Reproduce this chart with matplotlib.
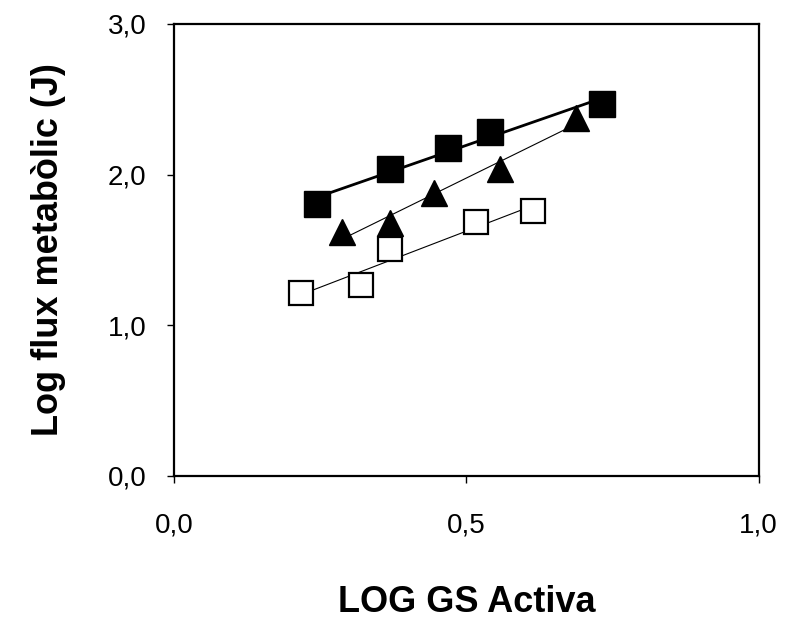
import matplotlib

matplotlib.use("Agg")
import matplotlib.pyplot as plt
import numpy as np
from matplotlib.ticker import FuncFormatter

plt.rcParams["font.family"] = ["Liberation Sans", "DejaVu Sans"]

# filled squares
sq_fill_x = [0.244, 0.370, 0.468, 0.541, 0.732]
sq_fill_y = [1.805, 2.039, 2.175, 2.285, 2.468]
# filled triangles
tri_x = [0.287, 0.370, 0.444, 0.557, 0.687]
tri_y = [1.621, 1.679, 1.876, 2.036, 2.374]
# open squares
sq_open_x = [0.217, 0.320, 0.369, 0.516, 0.614]
sq_open_y = [1.212, 1.267, 1.504, 1.688, 1.758]


def trend(ax, x, y, lw):
    # least-squares line over the data range, like an Excel trendline
    k, b = np.polyfit(x, y, 1)
    xs = np.array([min(x), max(x)])
    ax.plot(xs, k * xs + b, color="black", linewidth=lw, zorder=2)


fig = plt.figure(figsize=(7.87, 6.27), dpi=100)
ax = fig.add_axes([0.221, 0.241, 0.743, 0.721])

trend(ax, sq_fill_x, sq_fill_y, 2.0)
trend(ax, tri_x, tri_y, 0.8)
trend(ax, sq_open_x, sq_open_y, 0.8)

ax.plot(sq_fill_x, sq_fill_y, "s", ms=18.5, mfc="black", mec="black", mew=1, zorder=3)
ax.plot(tri_x, tri_y, "^", ms=19, mfc="black", mec="black", mew=1, zorder=3)
ax.plot(sq_open_x, sq_open_y, "s", ms=17, mfc="white", mec="black", mew=1.6, zorder=4)

ax.set_xlim(0, 1.0)
ax.set_ylim(0, 3.0)
ax.set_xticks([0, 0.5, 1.0])
ax.set_yticks([0, 1, 2, 3])
comma = FuncFormatter(lambda v, p: f"{v:.1f}".replace(".", ","))
ax.xaxis.set_major_formatter(comma)
ax.yaxis.set_major_formatter(comma)
ax.tick_params(direction="out", length=5, width=1, labelsize=20)
ax.tick_params(axis="x", pad=21)
ax.tick_params(axis="y", pad=15)
for s in ax.spines.values():
    s.set_linewidth(1.6)

ax.set_xlabel("LOG GS Activa", fontsize=26, fontweight="bold", labelpad=34)
ax.set_ylabel("Log flux metabòlic (J)", fontsize=26, fontweight="bold", labelpad=30)

fig.savefig("out.png", dpi=100)
plt.close(fig)
